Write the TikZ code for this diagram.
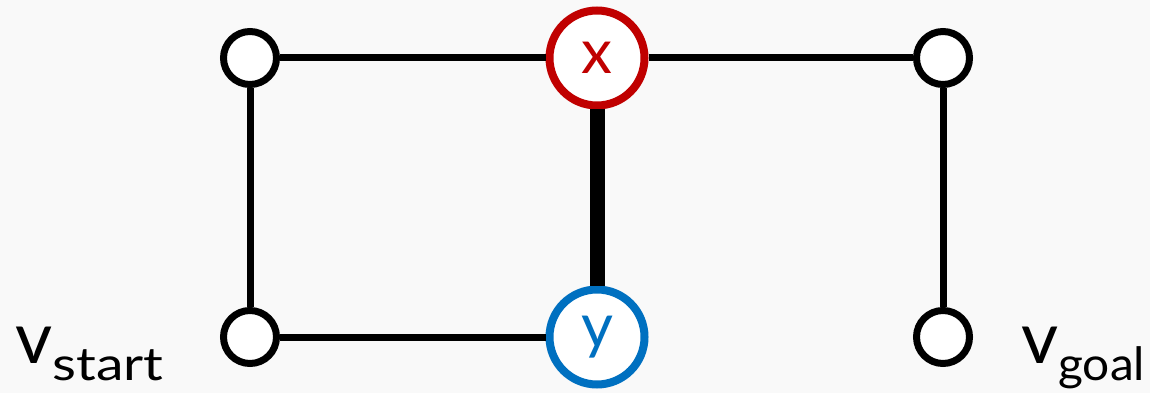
\documentclass[tikz,border=0pt]{standalone}
\usepackage{fontspec}
\setmainfont{Lato}
\newcommand{\subtxt}[2]{\raisebox{-17pt}{\scalebox{#1}[1]{\fontsize{46}{46}\selectfont #2}}}
\begin{document}
\definecolor{bgc}{HTML}{F9F9F9}
\definecolor{xred}{HTML}{C00000}
\definecolor{yblue}{HTML}{0070C0}
\begin{tikzpicture}[x=1pt,y=-1pt,
  vertex/.style={circle,draw=black,fill=white,line width=7pt,minimum size=53pt,inner sep=0pt},
  bigvertex/.style={circle,fill=white,line width=8pt,minimum size=95pt,inner sep=0pt,font=\fontsize{62}{62}\selectfont},
  edge/.style={line width=7pt},
  heavy/.style={line width=15pt},
  lbl/.style={anchor=base west,inner sep=0pt}]
\fill[bgc] (0,0) rectangle (1150,393);
\useasboundingbox (0,0) rectangle (1150,393);
% grid vertices
\node[vertex] (tl) at (250,58) {};
\node[vertex] (tr) at (943,58) {};
\node[vertex] (bl) at (250,337) {};
\node[vertex] (br) at (943,337) {};
\node[bigvertex,draw=xred,text=xred] (x) at (597,58) {x};
\node[bigvertex,draw=yblue,text=yblue] (y) at (597,337) {y};
% edges
\draw[edge] (tl) -- (x);
\draw[edge] (x) -- (tr);
\draw[edge] (tl) -- (bl);
\draw[edge] (tr) -- (br);
\draw[edge] (bl) -- (y);
\draw[heavy] (x) -- (y);
% labels
\node[lbl] (vs) at (15,363) {\fontsize{72}{72}\selectfont v\subtxt{1.2}{start}};
\node[lbl] (vg) at (1021,363) {\fontsize{72}{72}\selectfont v\subtxt{1.04}{goal}};
\end{tikzpicture}
\end{document}
